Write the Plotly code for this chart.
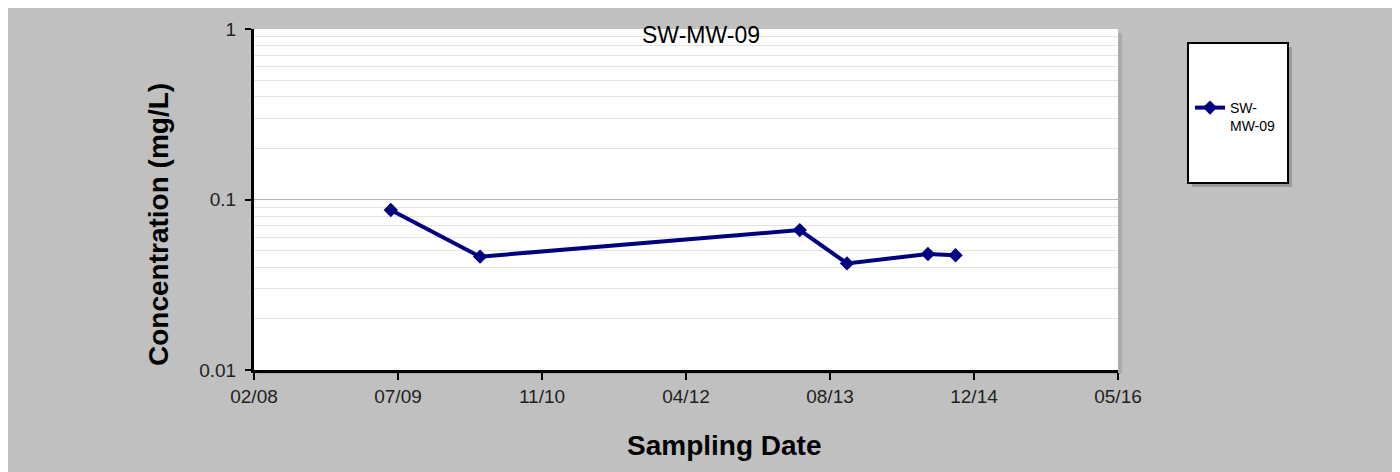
import plotly.graph_objects as go

# ---- data ----
sample_dates = ["2009-06-11", "2010-04-17", "2013-05-01", "2013-10-12", "2014-07-20", "2014-10-24"]
concentrations = [0.0868, 0.0462, 0.0662, 0.0422, 0.0479, 0.0471]
series_name = "SW-<br>MW-09"
chart_title = "SW-MW-09"
x_title = "Sampling Date"
y_title = "Concentration (mg/L)"

x_tick_dates = ["2008-02-22", "2009-07-06", "2010-11-18", "2012-04-01", "2013-08-14", "2014-12-27", "2016-05-10"]
x_tick_labels = ["02/08", "07/09", "11/10", "04/12", "08/13", "12/14", "05/16"]
y_tick_vals = [0.01, 0.1, 1]
y_tick_labels = ["0.01", "0.1", "1"]

# page places the figure at an 8px body margin
OFF = 8
W, H = 1400 - OFF, 472 - OFF
# plot area in page (reference) pixels
L, R, T, B = 254, 1118, 29, 370
pw, ph = R - L, B - T


def px(x):
    return (x - L) / pw


def py(y):
    return (B - y) / ph


NAVY = "#000080"
GRAY = "#c0c0c0"
arial = "Liberation Sans, Arial, sans-serif"

fig = go.Figure()
fig.add_trace(go.Scatter(
    x=sample_dates, y=concentrations, name=series_name,
    mode="lines+markers",
    line=dict(color=NAVY, width=4),
    marker=dict(symbol="diamond", size=11, color=NAVY),
))

shapes = [
    # plot area shadow
    dict(type="rect", xref="paper", yref="paper", x0=px(L + 4), x1=px(R + 4), y0=py(B + 4), y1=py(T + 4),
         fillcolor="#ababab", line=dict(width=0), layer="below"),
    # plot area
    dict(type="rect", xref="paper", yref="paper", x0=0, x1=1, y0=0, y1=1,
         fillcolor="white", line=dict(width=0), layer="below"),
    # legend shadow
    dict(type="rect", xref="paper", yref="paper", x0=px(1192), x1=px(1292), y0=py(187), y1=py(47),
         fillcolor="#9a9a9a", line=dict(width=0), layer="below"),
    # legend box
    dict(type="rect", xref="paper", yref="paper", x0=px(1188), x1=px(1288), y0=py(183), y1=py(43),
         fillcolor="white", line=dict(color="black", width=2), layer="below"),
]

fig.update_layout(
    width=W, height=H,
    margin=dict(l=L - OFF, r=1400 - R, t=T - OFF, b=472 - B),
    paper_bgcolor=GRAY,
    plot_bgcolor="rgba(0,0,0,0)",
    shapes=shapes,
    showlegend=True,
    legend=dict(
        x=px(1190), y=py(92), xanchor="left", yanchor="top", valign="top",
        bgcolor="rgba(0,0,0,0)", borderwidth=0,
        font=dict(family=arial, size=14, color="black"),
    ),
    annotations=[
        dict(text=chart_title, xref="paper", yref="paper", x=px(701), y=py(35),
             xanchor="center", yanchor="middle", showarrow=False,
             font=dict(family=arial, size=23, color="black")),
        dict(text="<b>" + x_title + "</b>", xref="paper", yref="paper", x=px(724), y=py(445),
             xanchor="center", yanchor="middle", showarrow=False,
             font=dict(family=arial, size=28, color="black")),
        dict(text="<b>" + y_title + "</b>", xref="paper", yref="paper", x=px(159), y=py(225),
             xanchor="center", yanchor="middle", showarrow=False, textangle=-90,
             font=dict(family=arial, size=28, color="black")),
    ],
    xaxis=dict(
        type="date",
        range=[x_tick_dates[0], x_tick_dates[-1]],
        tickmode="array", tickvals=x_tick_dates, ticktext=x_tick_labels,
        showgrid=False, zeroline=False,
        showline=True, linecolor="black", linewidth=3,
        ticks="outside", ticklen=7, tickwidth=2, tickcolor="black",
        tickfont=dict(family=arial, size=19, color="#222"),
    ),
    yaxis=dict(
        type="log",
        range=[-2, 0],
        tickmode="array", tickvals=y_tick_vals, ticktext=y_tick_labels,
        showgrid=True, gridcolor="#b4b4b4", gridwidth=1,
        minor=dict(dtick="D1", showgrid=True, gridcolor="#e4e4e4", gridwidth=1, ticks=""),
        zeroline=False,
        showline=True, linecolor="black", linewidth=3,
        ticks="outside", ticklen=6, tickwidth=2, tickcolor="black",
        ticklabelstandoff=5,
        tickfont=dict(family=arial, size=19, color="#222"),
    ),
)

fig.write_html("out.html")
